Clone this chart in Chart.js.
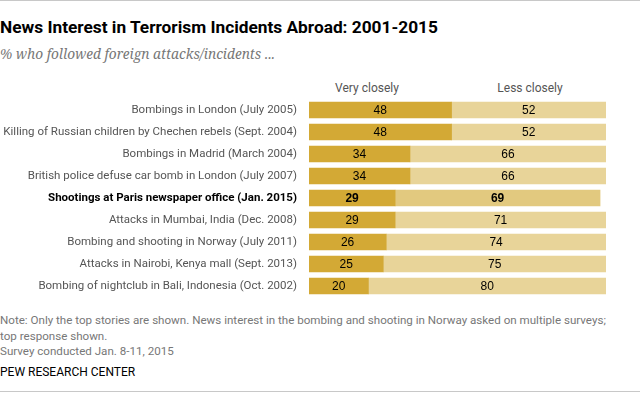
<!DOCTYPE html>
<html lang="en">
<head>
    <meta charset="UTF-8">
    <title>News Interest in Terrorism Incidents Abroad: 2001-2015</title>
    <script src="https://cdn.jsdelivr.net/npm/chart.js"></script>
    <style>
        body { margin: 0; background: #fff; width: 640px; height: 398px; position: relative; overflow: hidden; font-family: Roboto, "Liberation Sans", sans-serif; }
        .rule { position: absolute; left: 0; width: 640px; height: 1px; background: #c8c8c8; }
        #title { position: absolute; left: 0; top: 19px; font-size: 17.3px; line-height: 17.5px; font-weight: bold; color: #000; white-space: nowrap; }
        #subtitle { position: absolute; left: 0; top: 46px; font-family: "Noto Serif", "Liberation Serif", serif; font-style: italic; font-size: 13.7px; line-height: 16px; color: #777; white-space: nowrap; }
        .head { position: absolute; top: 81px; font-size: 12px; line-height: 14px; color: #555; white-space: nowrap; transform: translateX(-50%); }
        #chartBox { position: absolute; left: 0; top: 99px; width: 640px; height: 198px; }
        #note { position: absolute; left: 0; top: 313px; font-size: 11.6px; line-height: 15.5px; color: #777; white-space: nowrap; }
        #source { position: absolute; left: 0; top: 365px; font-size: 12px; line-height: 14px; color: #000; }
    </style>
</head>
<body>
    <div class="rule" style="top:0"></div>
    <div id="title">News Interest in Terrorism Incidents Abroad: 2001-2015</div>
    <div id="subtitle">% who followed foreign attacks/incidents ...</div>
    <div class="head" style="left:367px">Very closely</div>
    <div class="head" style="left:530px">Less closely</div>
    <div id="chartBox"><canvas id="chart" width="640" height="198"></canvas></div>
    <div id="note">Note: Only the top stories are shown. News interest in the bombing and shooting in Norway asked on multiple surveys;<br>top response shown.<br>Survey conducted Jan. 8-11, 2015</div>
    <div id="source">PEW RESEARCH CENTER</div>
    <div class="rule" style="top:391px"></div>

    <script>
        const events = [
            "Bombings in London (July 2005)",
            "Killing of Russian children by Chechen rebels (Sept. 2004)",
            "Bombings in Madrid (March 2004)",
            "British police defuse car bomb in London (July 2007)",
            "Shootings at Paris newspaper office (Jan. 2015)",
            "Attacks in Mumbai, India (Dec. 2008)",
            "Bombing and shooting in Norway (July 2011)",
            "Attacks in Nairobi, Kenya mall (Sept. 2013)",
            "Bombing of nightclub in Bali, Indonesia (Oct. 2002)"
        ];
        const veryClosely = [48, 48, 34, 34, 29, 29, 26, 25, 20];
        const lessClosely = [52, 52, 66, 66, 69, 71, 74, 75, 80];
        const highlight = 4; // Paris row

        const darkGold = "#d3a935";
        const lightGold = "#e8d499";
        const lightGoldHi = "#e2c97f";

        // numbers in the middle of each segment
        const barLabels = {
            id: "barLabels",
            afterDatasetsDraw(chart) {
                const ctx = chart.ctx;
                ctx.save();
                ctx.textAlign = "center";
                ctx.textBaseline = "middle";
                ctx.fillStyle = "#000";
                chart.data.datasets.forEach((ds, di) => {
                    chart.getDatasetMeta(di).data.forEach((bar, i) => {
                        ctx.font = (i === highlight ? "bold " : "") + "12px 'Liberation Sans', Arial, sans-serif";
                        ctx.fillText(ds.data[i], (bar.x + bar.base) / 2, bar.y + 0.5);
                    });
                });
                ctx.restore();
            }
        };

        new Chart(document.getElementById("chart"), {
            type: "bar",
            data: {
                labels: events,
                datasets: [
                    {
                        label: "Very closely",
                        data: veryClosely,
                        backgroundColor: darkGold,
                        barThickness: 16
                    },
                    {
                        label: "Less closely",
                        data: lessClosely,
                        backgroundColor: events.map((e, i) => i === highlight ? lightGoldHi : lightGold),
                        barThickness: 16
                    }
                ]
            },
            options: {
                indexAxis: "y",
                responsive: false,
                animation: false,
                layout: { autoPadding: false, padding: { left: 0, right: 34, top: 0, bottom: 0 } },
                plugins: { legend: { display: false }, tooltip: { enabled: false } },
                scales: {
                    x: { stacked: true, min: 0, max: 100, display: false },
                    y: {
                        stacked: true,
                        grid: { display: false, drawTicks: false },
                        border: { display: false },
                        afterFit(scale) {
                            scale.width = 309;
                            scale.paddingTop = 0;
                            scale.paddingBottom = 0;
                        },
                        ticks: {
                            padding: 12,
                            color: ctx => ctx.index === highlight ? "#000" : "#555",
                            font: ctx => ({
                                family: "Roboto, 'Liberation Sans', sans-serif",
                                size: 11.5,
                                weight: ctx.index === highlight ? "bold" : "normal"
                            })
                        }
                    }
                }
            },
            plugins: [barLabels]
        });
    </script>
</body>
</html>
